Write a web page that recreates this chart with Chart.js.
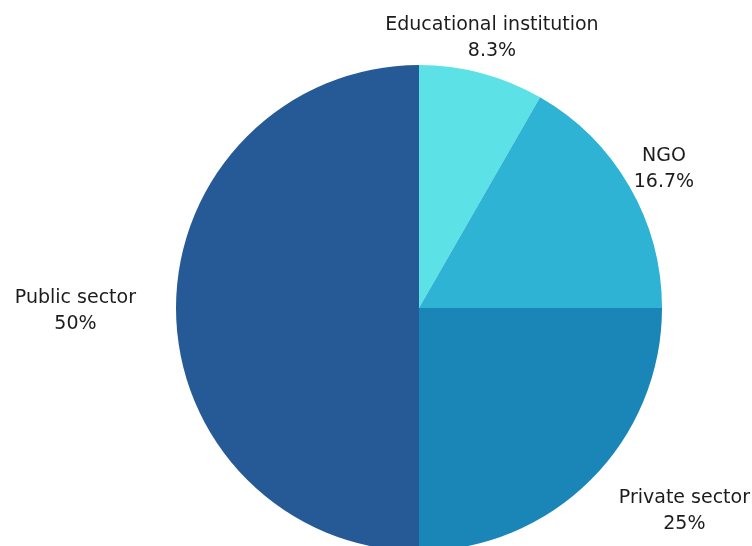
<!DOCTYPE html>
<html>
<head>
<meta charset="utf-8">
<script src="https://cdn.jsdelivr.net/npm/chart.js@4/dist/chart.umd.min.js"></script>
<style>
  html, body { margin: 0; padding: 0; background: #ffffff; overflow: hidden; }
  #wrap { width: 752px; height: 546px; position: relative; }
</style>
</head>
<body>
<div id="wrap"><canvas id="pie" width="752" height="546"></canvas></div>
<script>
// sectors, clockwise from 12 o'clock
const sectors = ['Educational institution', 'NGO', 'Private sector', 'Public sector'];
const shares  = [8.3, 16.7, 25, 50];
const shareText = ['8.3%', '16.7%', '25%', '50%'];
const sliceColors = ['#5ce1e6', '#2eb3d5', '#1a86b8', '#265a97'];

// where each two-line label sits relative to its anchor point
const labelBoxAlign = ['center', 'center', 'start', 'end'];

const outsideLabels = {
    id: 'outsideLabels',
    afterDatasetsDraw(chart, args, opts) {
        const ctx = chart.ctx;
        const meta = chart.getDatasetMeta(0);
        ctx.save();
        ctx.font = opts.font;
        ctx.fillStyle = opts.color;
        ctx.textAlign = 'center';
        ctx.textBaseline = 'middle';
        meta.data.forEach((arc, i) => {
            const p = arc.getProps(['x', 'y', 'startAngle', 'endAngle', 'outerRadius'], true);
            const mid = (p.startAngle + p.endAngle) / 2;
            const dist = p.outerRadius + opts.gap;
            const ax = p.x + Math.cos(mid) * dist;
            const ay = p.y + Math.sin(mid) * dist + opts.shiftY;
            const lines = [chart.data.labels[i], shareText[i]];
            const w = Math.max(...lines.map(t => ctx.measureText(t).width));
            let cx = ax;
            if (labelBoxAlign[i] === 'start') cx = ax + w / 2;
            if (labelBoxAlign[i] === 'end') cx = ax - w / 2;
            // keep the label inside the canvas
            cx = Math.min(Math.max(cx, w / 2 + 2), chart.width - w / 2 - 2);
            const top = ay - opts.lineHeight / 2;
            lines.forEach((t, k) => ctx.fillText(t, cx, top + k * opts.lineHeight));
        });
        ctx.restore();
    }
};

new Chart(document.getElementById('pie'), {
    type: 'pie',
    data: {
        labels: sectors,
        datasets: [{
            data: shares,
            backgroundColor: sliceColors,
            borderWidth: 0,
            hoverOffset: 0,
            radius: 243
        }]
    },
    options: {
        responsive: false,
        animation: false,
        layout: { padding: { left: 176, right: 90, top: 70, bottom: 0 } },
        plugins: {
            legend: { display: false },
            tooltip: { enabled: false },
            outsideLabels: {
                font: '19px "DejaVu Sans"',
                color: '#1c1c1c',
                gap: 40,
                shiftY: 3,
                lineHeight: 26
            }
        }
    },
    plugins: [outsideLabels]
});
</script>
</body>
</html>
